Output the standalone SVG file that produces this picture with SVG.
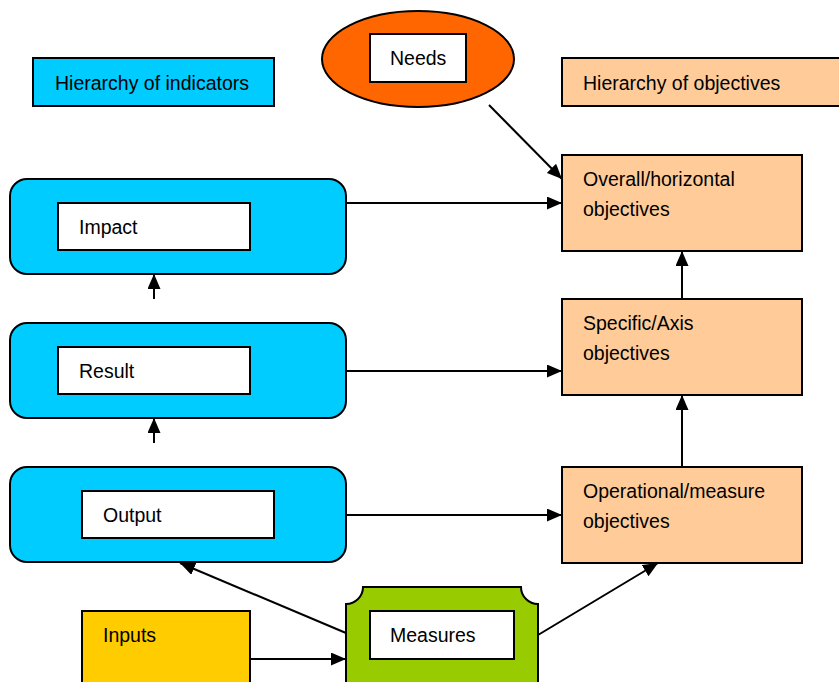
<svg xmlns="http://www.w3.org/2000/svg" width="839" height="682" viewBox="0 0 839 682">
<defs>
<style>
.t{font-family:"Liberation Sans",Arial,sans-serif;font-size:19.5px;fill:#000}
.box{stroke:#000;stroke-width:2}
.inner{fill:#fff;stroke:#000;stroke-width:2}
.blue{fill:#00CCFF}
.peach{fill:#FFCC99}
.conn line{stroke:#000;stroke-width:2;fill:none;marker-end:url(#ah)}
</style>
<marker id="ah" viewBox="0 0 15 13" refX="15" refY="6.5" markerWidth="15" markerHeight="13" markerUnits="userSpaceOnUse" orient="auto">
<path d="M0,0 L15,6.5 L0,13 Z" fill="#000"/>
</marker>
</defs>
<rect width="839" height="682" fill="#fff"/>

<g id="hier-indicators">
<rect class="box blue" x="33" y="58" width="241" height="48"/>
<text class="t" x="55" y="90">Hierarchy of indicators</text>
</g>
<g id="hier-objectives">
<rect class="box peach" x="562" y="58" width="285" height="48"/>
<text class="t" x="583" y="90">Hierarchy of objectives</text>
</g>
<g id="needs">
<ellipse class="box" cx="418" cy="59" rx="96" ry="48" fill="#FF6600"/>
<rect class="inner" x="370" y="34" width="96" height="48"/>
<text class="t" x="390" y="65">Needs</text>
</g>
<g id="impact">
<rect class="box blue" x="10" y="179" width="336" height="95" rx="17"/>
<rect class="inner" x="58" y="203" width="192" height="47"/>
<text class="t" x="79" y="234">Impact</text>
</g>
<g id="result">
<rect class="box blue" x="10" y="323" width="336" height="95" rx="17"/>
<rect class="inner" x="58" y="347" width="192" height="47"/>
<text class="t" x="79" y="378">Result</text>
</g>
<g id="output">
<rect class="box blue" x="10" y="467" width="336" height="95" rx="17"/>
<rect class="inner" x="82" y="491" width="192" height="47"/>
<text class="t" x="103" y="522">Output</text>
</g>
<g id="overall">
<rect class="box peach" x="562" y="155" width="240" height="96"/>
<text class="t" x="583" y="186">Overall/horizontal</text>
<text class="t" x="583" y="216">objectives</text>
</g>
<g id="specific">
<rect class="box peach" x="562" y="299" width="240" height="96"/>
<text class="t" x="583" y="330">Specific/Axis</text>
<text class="t" x="583" y="360">objectives</text>
</g>
<g id="operational">
<rect class="box peach" x="562" y="467" width="240" height="96"/>
<text class="t" x="583" y="498">Operational/measure</text>
<text class="t" x="583" y="528">objectives</text>
</g>
<g id="inputs">
<rect class="box" x="82" y="611" width="168" height="90" fill="#FFCC00"/>
<text class="t" x="103" y="642">Inputs</text>
</g>
<g id="measures">
<path class="box" fill="#99CC00" d="M363,587 L521,587 A17,17 0 0 0 538,604 L538,690 L346,690 L346,604 A17,17 0 0 0 363,587 Z"/>
<rect class="inner" x="370" y="611" width="144" height="48"/>
<text class="t" x="390" y="642">Measures</text>
</g>

<g id="connectors" class="conn">
<line x1="489" y1="105" x2="562" y2="179"/>
<line x1="346" y1="203" x2="562" y2="203"/>
<line x1="346" y1="371" x2="562" y2="371"/>
<line x1="346" y1="515" x2="562" y2="515"/>
<line x1="154" y1="299" x2="154" y2="274"/>
<line x1="154" y1="443" x2="154" y2="418"/>
<line x1="682" y1="299" x2="682" y2="251"/>
<line x1="682" y1="467" x2="682" y2="395"/>
<line x1="346" y1="633" x2="180" y2="563"/>
<line x1="538" y1="635" x2="658" y2="563"/>
<line x1="250" y1="659" x2="346" y2="659"/>
</g>
</svg>
